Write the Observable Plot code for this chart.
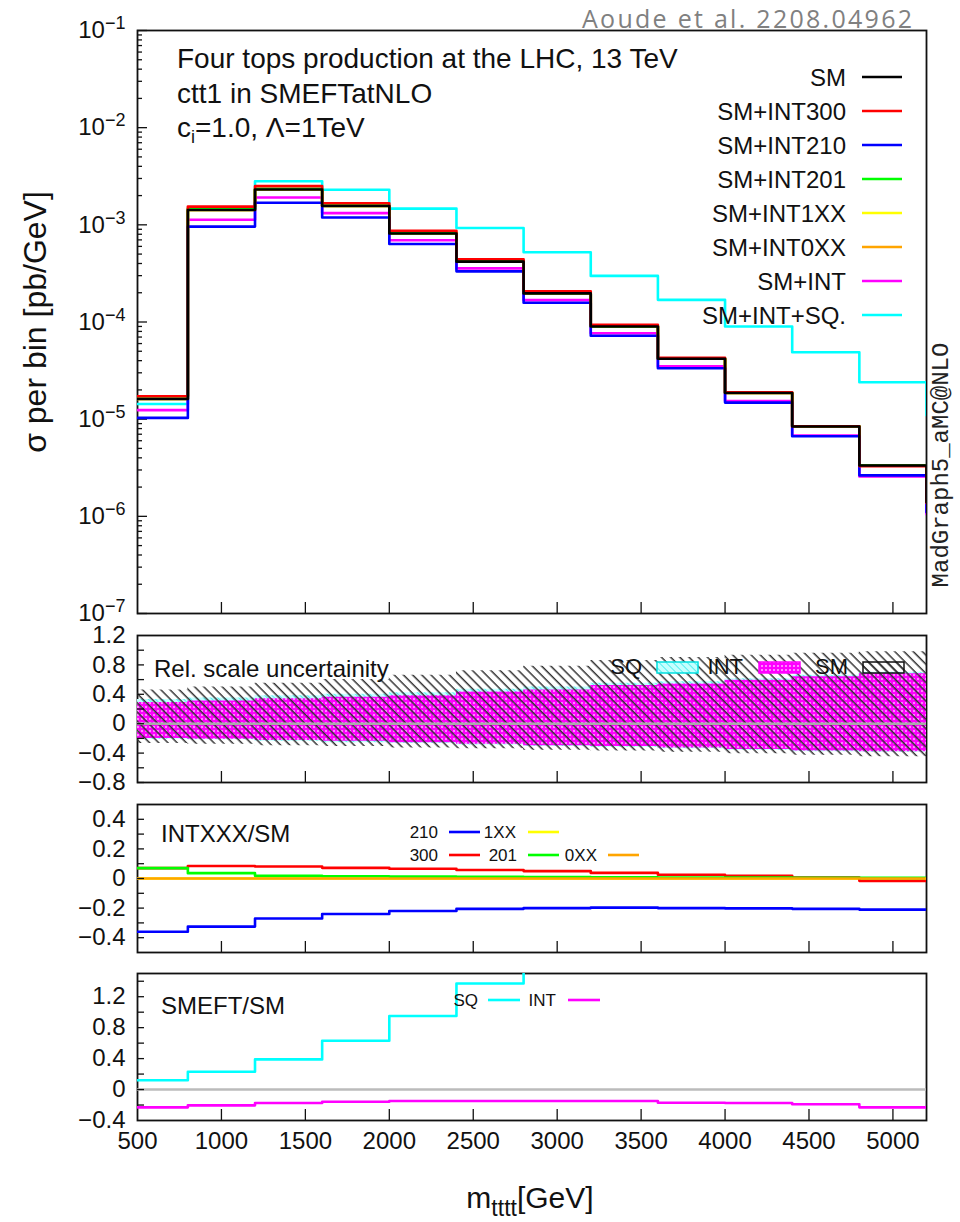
<!DOCTYPE html>
<html><head><meta charset="utf-8">
<script src="https://cdn.jsdelivr.net/npm/d3@7"></script>
<script src="https://cdn.jsdelivr.net/npm/@observablehq/plot@0.6"></script>
<style>
body{margin:0;background:#fff;}
#wrap{position:relative;width:960px;height:1222px;overflow:hidden;background:#fff;}
</style></head><body><div id="wrap"></div>
<script>
// ---------- data ----------
const binEdges = [500,800,1200,1600,2000,2400,2800,3200,3600,4000,4400,4800,5200];
const mainEdges = [500,800,1200,1600,2000,2400,2800,3200,3600,4000,4400,4800,5200,5600]; // last bin only shows its drop at 5200
const xTickLabels = [500,1000,1500,2000,2500,3000,3500,4000,4500,5000];
const xInnerTicks = [1000,1500,2000,2500,3000,3500,4000,4500,5000];

const seriesNames  = ["SM","SM+INT300","SM+INT210","SM+INT201","SM+INT1XX","SM+INT0XX","SM+INT","SM+INT+SQ."];
const seriesColors = ["#000000","#ff0000","#0000ff","#00ff00","#ffff00","#ffa500","#ff00ff","#00ffff"];

// sigma per bin [pb/GeV]
const sigmaSM     = [1.61e-5,1.42e-3,2.31e-3,1.56e-3,8.15e-4,4.18e-4,1.97e-4,9.0e-5,4.18e-5,1.86e-5,8.4e-6,3.34e-6,1.4e-6];
const sigmaINT300 = [1.72e-5,1.54e-3,2.50e-3,1.67e-3,8.69e-4,4.42e-4,2.07e-4,9.34e-5,4.28e-5,1.89e-5,8.46e-6,3.29e-6,1.37e-6];
const sigmaINT210 = [1.03e-5,9.59e-4,1.69e-3,1.19e-3,6.36e-4,3.32e-4,1.58e-4,7.23e-5,3.34e-5,1.48e-5,6.68e-6,2.64e-6,1.1e-6];
const sigmaINT201 = [1.72e-5,1.47e-3,2.35e-3,1.58e-3,8.26e-4,4.23e-4,1.99e-4,9.07e-5,4.21e-5,1.87e-5,8.44e-6,3.35e-6,1.41e-6];
const sigmaINT1XX = [1.61e-5,1.42e-3,2.31e-3,1.56e-3,8.15e-4,4.18e-4,1.97e-4,9.0e-5,4.18e-5,1.86e-5,8.4e-6,3.34e-6,1.4e-6];
const sigmaINT0XX = [1.61e-5,1.42e-3,2.31e-3,1.56e-3,8.15e-4,4.18e-4,1.97e-4,9.0e-5,4.18e-5,1.86e-5,8.4e-6,3.34e-6,1.4e-6];
const sigmaINT    = [1.24e-5,1.13e-3,1.91e-3,1.32e-3,6.94e-4,3.56e-4,1.68e-4,7.67e-5,3.49e-5,1.54e-5,6.80e-6,2.57e-6,1.05e-6];
const sigmaINTSQ  = [1.43e-5,1.46e-3,2.81e-3,2.30e-3,1.47e-3,9.29e-4,5.22e-4,2.98e-4,1.69e-4,8.98e-5,4.88e-5,2.4e-5,1.1e-5];
const decadeTicks = [1e-7,1e-6,1e-5,1e-4,1e-3,1e-2,1e-1];

// relative scale uncertainty bands
const bandSMhi  = [0.46,0.50,0.55,0.60,0.66,0.72,0.78,0.86,0.90,0.93,0.96,0.98];
const bandSMlo  = [-0.27,-0.28,-0.30,-0.31,-0.33,-0.34,-0.36,-0.37,-0.39,-0.41,-0.43,-0.45];
const bandINThi = [0.29,0.31,0.34,0.36,0.38,0.43,0.46,0.52,0.54,0.59,0.64,0.68];
const bandINTlo = [-0.20,-0.21,-0.23,-0.24,-0.26,-0.28,-0.30,-0.31,-0.33,-0.35,-0.37,-0.38];
const bandSQhi  = [0.33,0.35,0.38,0.40,0.42,0.47,0.50,0.55,0.57,0.61,0.66,0.70];
const bandSQlo  = [-0.21,-0.22,-0.24,-0.26,-0.27,-0.29,-0.31,-0.32,-0.34,-0.36,-0.38,-0.39];
const relTicks  = [-0.8,-0.6,-0.4,-0.2,0,0.2,0.4,0.6,0.8,1.0];
const relLabels = [-0.8,-0.4,0,0.4,0.8,1.2];

// INTXXX / SM
const ratio210 = [-0.36,-0.325,-0.27,-0.24,-0.22,-0.205,-0.20,-0.197,-0.20,-0.202,-0.205,-0.21];
const ratio1XX = [0,0,0,0,0,0,0,0,0,0,0,0];
const ratio300 = [0.07,0.084,0.081,0.072,0.066,0.057,0.05,0.038,0.025,0.018,0.007,-0.016];
const ratio201 = [0.07,0.036,0.018,0.015,0.013,0.011,0.01,0.008,0.007,0.006,0.005,0.004];
const ratio0XX = [0,0,0,0,0,0,0,0,0,0,0,0];
const intTicks  = [-0.4,-0.3,-0.2,-0.1,0,0.1,0.2,0.3,0.4];
const intLabels = [-0.4,-0.2,0,0.2,0.4];

// SMEFT / SM
const ratioSQ  = [0.12,0.23,0.39,0.63,0.95,1.37,1.8,2.46,3.2,4.0,4.9,6.2];
const ratioINT = [-0.23,-0.204,-0.174,-0.157,-0.148,-0.148,-0.148,-0.148,-0.17,-0.174,-0.19,-0.23];
const smeftTicks  = [-0.2,0,0.2,0.4,0.6,0.8,1.0,1.2,1.4];
const smeftLabels = [-0.4,0,0.4,0.8,1.2];

// ---------- helpers ----------
const FONT = '"Liberation Sans", Arial, Helvetica, sans-serif';
const wrap = document.getElementById("wrap");
const steps = (edges, vals) => edges.map((x, i) => ({x, y: vals[Math.min(i, vals.length - 1)]}));
const band = (edges, lo, hi) => edges.map((x, i) => ({x, lo: lo[Math.min(i, lo.length - 1)], hi: hi[Math.min(i, hi.length - 1)]}));
const fmt = d => d === 0 ? "0" : (d < 0 ? "\u2212" : "") + String(Math.abs(d));
function place(svg, top) { svg.style.position = "absolute"; svg.style.left = "0px"; svg.style.top = top + "px"; wrap.appendChild(svg); }
function base(height, mt, mb, y) {
  return {width: 960, height, marginLeft: 137, marginRight: 34, marginTop: mt, marginBottom: mb,
    style: {overflow: "visible", background: "transparent", fontFamily: FONT, color: "#111"},
    x: {type: "linear", domain: [500, 5200], label: null}, y};
}
const innerY = (ticks, len) => Plot.axisY({ticks, tickSize: len, dx: len, tickFormat: () => "", label: null, strokeWidth: 1.3});
const innerX = () => Plot.axisX({ticks: xInnerTicks, tickSize: 11, dy: -11, tickFormat: () => "", label: null, strokeWidth: 1.3});
const yLabels = (ticks, f) => Plot.axisY({ticks, tickSize: 0, tickPadding: 12, fontSize: 24, tickFormat: f, label: null});
const frame = () => Plot.frame({stroke: "#111", strokeWidth: 1.8});

// ---------- panel 1 ----------
const minor = [];
for (let e = -7; e < -1; e++) for (let k = 2; k <= 9; k++) minor.push(k * Math.pow(10, e));
const mainSeries = [sigmaSM, sigmaINT300, sigmaINT210, sigmaINT201, sigmaINT1XX, sigmaINT0XX, sigmaINT, sigmaINTSQ];
const drawOrder = [7, 6, 5, 4, 3, 2, 1, 0];
const p1 = Plot.plot({
  ...base(625, 30, 12, {type: "log", domain: [1e-7, 1e-1], label: null}),
  marks: [
    frame(),
    innerY(decadeTicks, 10), innerY(minor, 5),
    yLabels(decadeTicks, d => "10^" + Math.round(Math.log10(d))),
    innerX(),
    ...drawOrder.map(i => Plot.line(steps(mainEdges, mainSeries[i]), {x: "x", y: "y", curve: "step-after", stroke: seriesColors[i], strokeWidth: 2.6, clip: true}))
  ]
});
place(p1, 0);
d3.select(p1).selectAll("text").each(function() {
  const m = /^10\^(-?\d+)$/.exec(this.textContent);
  if (m) {
    const t = d3.select(this); this.textContent = "";
    t.append("tspan").text("10");
    t.append("tspan").attr("dy", "-0.5em").attr("font-size", "18px").text("\u2212" + Math.abs(+m[1]));
  }
});

// ---------- panel 2 ----------
const p2 = Plot.plot({
  ...base(166, 10, 9, {domain: [-0.8, 1.2], label: null}),
  marks: [
    frame(),
    Plot.areaY(band(binEdges, bandSQlo, bandSQhi), {x: "x", y1: "lo", y2: "hi", curve: "step-after", fill: "url(#patSQ)"}),
    Plot.areaY(band(binEdges, bandINTlo, bandINThi), {x: "x", y1: "lo", y2: "hi", curve: "step-after", fill: "url(#patINT)"}),
    Plot.areaY(band(binEdges, bandSMlo, bandSMhi), {x: "x", y1: "lo", y2: "hi", curve: "step-after", fill: "url(#patSM)"}),
    Plot.ruleY([0], {stroke: "#aaaaaa", strokeWidth: 2.5}),
    innerY(relTicks, 7), yLabels(relLabels, fmt), innerX()
  ]
});
place(p2, 625);

// ---------- panel 3 ----------
const intSeries = [[ratio210, "#0000ff"], [ratio1XX, "#ffff00"], [ratio300, "#ff0000"], [ratio201, "#00ff00"], [ratio0XX, "#ffa500"]];
const p3 = Plot.plot({
  ...base(170, 13, 9, {domain: [-0.5, 0.5], label: null}),
  marks: [
    frame(),
    ...intSeries.map(([v, c]) => Plot.line(steps(binEdges, v), {x: "x", y: "y", curve: "step-after", stroke: c, strokeWidth: 2.6, clip: true})),
    innerY(intTicks, 7), yLabels(intLabels, fmt), innerX()
  ]
});
place(p3, 791);

// ---------- panel 4 ----------
const p4 = Plot.plot({
  ...base(261, 12, 102, {domain: [-0.4, 1.5], label: null}),
  marks: [
    frame(),
    Plot.ruleY([0], {stroke: "#bbbbbb", strokeWidth: 2.5}),
    Plot.line(steps(binEdges, ratioSQ), {x: "x", y: "y", curve: "step-after", stroke: "#00ffff", strokeWidth: 2.6, clip: true}),
    Plot.line(steps(binEdges, ratioINT), {x: "x", y: "y", curve: "step-after", stroke: "#ff00ff", strokeWidth: 2.6, clip: true}),
    innerY(smeftTicks, 7), yLabels(smeftLabels, fmt), innerX(),
    Plot.axisX({ticks: xTickLabels, tickSize: 0, tickPadding: 11, fontSize: 24, tickFormat: d => String(d), label: null})
  ]
});
place(p4, 961);

// ---------- annotations overlay ----------
const ov = d3.create("svg").attr("width", 960).attr("height", 1222)
  .style("position", "absolute").style("left", "0px").style("top", "0px").style("overflow", "visible")
  .attr("font-family", FONT).attr("fill", "#111");
ov.append("defs").html(`
<pattern id="patSM" patternUnits="userSpaceOnUse" width="6.5" height="6.5" patternTransform="rotate(-45)">
  <line x1="3" y1="-1" x2="3" y2="8" stroke="#333" stroke-width="1.5"/></pattern>
<pattern id="patINT" patternUnits="userSpaceOnUse" width="4" height="4">
  <rect width="4" height="4" fill="#ff00ff"/><rect x="1.2" y="1.2" width="1.6" height="1.6" fill="#ffd0ff"/></pattern>
<pattern id="patSQ" patternUnits="userSpaceOnUse" width="5" height="5" patternTransform="rotate(-45)">
  <rect width="5" height="5" fill="#c4ffff"/><line x1="2.5" y1="-1" x2="2.5" y2="6" stroke="#5ee" stroke-width="1"/></pattern>`);

// Aoude reference
ov.append("text").attr("x", 912).attr("y", 28).attr("text-anchor", "end").attr("font-family", '"Open Sans", sans-serif')
  .attr("font-size", 25).attr("textLength", 330).attr("lengthAdjust", "spacing")
  .attr("fill", "#808080").text("Aoude et al. 2208.04962");

// titles
const t1 = ov.append("g").attr("font-size", 28);
t1.append("text").attr("x", 177).attr("y", 68).text("Four tops production at the LHC, 13 TeV");
t1.append("text").attr("x", 177).attr("y", 103).text("ctt1 in SMEFTatNLO");
const t3 = t1.append("text").attr("x", 177).attr("y", 137);
t3.append("tspan").text("c");
t3.append("tspan").attr("font-size", 18).attr("dy", 6).text("i");
t3.append("tspan").attr("dy", -6).text("=1.0, \u039B=1TeV");

// main legend
seriesNames.forEach((name, i) => {
  const cy = 77 + 34 * i;
  ov.append("text").attr("x", 846).attr("y", cy + 8.5).attr("text-anchor", "end").attr("font-size", 24).text(name);
  ov.append("line").attr("x1", 862).attr("x2", 902).attr("y1", cy).attr("y2", cy).attr("stroke", seriesColors[i]).attr("stroke-width", 2.6);
});

// MadGraph tag
ov.append("text").attr("transform", "translate(948,465) rotate(-90)").attr("text-anchor", "middle")
  .attr("font-family", '"Liberation Mono", "DejaVu Sans Mono", monospace').attr("font-size", 24).attr("fill", "#222").text("MadGraph5_aMC@NLO");

// axis titles
ov.append("text").attr("transform", "translate(46,322) rotate(-90)").attr("text-anchor", "middle").attr("font-size", 32).text("\u03C3 per bin [pb/GeV]");
const xt = ov.append("text").attr("x", 530).attr("y", 1208).attr("text-anchor", "middle").attr("font-size", 30);
xt.append("tspan").text("m");
xt.append("tspan").attr("font-size", 23).attr("dy", 8).text("tttt");
xt.append("tspan").attr("dy", -8).text("[GeV]");

// panel 2 labels
ov.append("text").attr("x", 154).attr("y", 677).attr("font-size", 24).text("Rel. scale uncertainity");
const leg2 = [["SQ", 642, 657, "url(#patSQ)", "#00e0e0"], ["INT", 743, 759, "url(#patINT)", "#ff00ff"], ["SM", 848, 863, "url(#patSM)", "#111"]];
leg2.forEach(([s, tx, bx, f, st]) => {
  ov.append("text").attr("x", tx).attr("y", 674).attr("text-anchor", "end").attr("font-size", 22).text(s);
  ov.append("rect").attr("x", bx).attr("y", 662).attr("width", 41).attr("height", 11).attr("fill", f).attr("stroke", st).attr("stroke-width", 1.5);
});

// panel 3 labels
ov.append("text").attr("x", 161).attr("y", 842).attr("font-size", 24).text("INTXXX/SM");
const leg3 = [["210", 438, 449, 832, "#0000ff"], ["1XX", 516, 528, 832, "#ffff00"], ["300", 438, 449, 855, "#ff0000"], ["201", 517, 528, 855, "#00ff00"], ["0XX", 597, 608, 855, "#ffa500"]];
leg3.forEach(([s, tx, lx, cy, c]) => {
  ov.append("text").attr("x", tx).attr("y", cy + 6).attr("text-anchor", "end").attr("font-size", 17).text(s);
  ov.append("line").attr("x1", lx).attr("x2", lx + 31).attr("y1", cy).attr("y2", cy).attr("stroke", c).attr("stroke-width", 2.6);
});

// panel 4 labels
ov.append("text").attr("x", 161).attr("y", 1014).attr("font-size", 24).text("SMEFT/SM");
const leg4 = [["SQ", 478, 488, "#00ffff"], ["INT", 556, 568, "#ff00ff"]];
leg4.forEach(([s, tx, lx, c]) => {
  ov.append("text").attr("x", tx).attr("y", 1006).attr("text-anchor", "end").attr("font-size", 17).text(s);
  ov.append("line").attr("x1", lx).attr("x2", lx + 32).attr("y1", 1000).attr("y2", 1000).attr("stroke", c).attr("stroke-width", 2.6);
});

wrap.appendChild(ov.node());
</script></body></html>
